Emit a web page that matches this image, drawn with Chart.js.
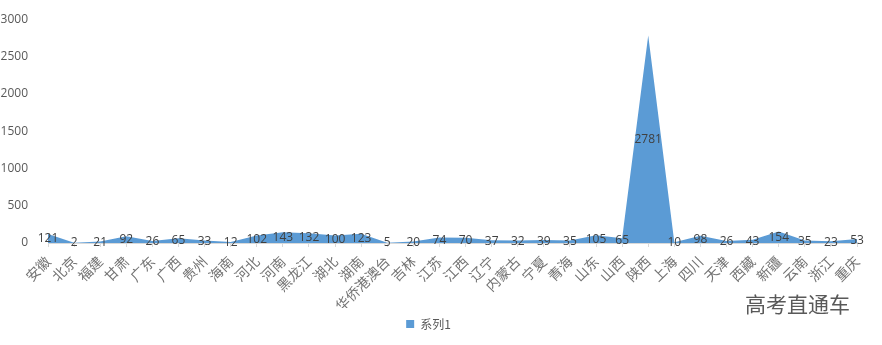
<!DOCTYPE html>
<html>
<head>
<meta charset="utf-8">
<script src="https://cdn.jsdelivr.net/npm/chart.js@4"></script>
<style>
  html, body { margin: 0; padding: 0; background: #fff; }
  #wrap { width: 882px; height: 345px; position: relative; }
</style>
</head>
<body>
<div id="wrap"><canvas id="areaChart" width="882" height="345"></canvas></div>
<script>
const provinces = ["安徽", "北京", "福建", "甘肃", "广东", "广西", "贵州", "海南", "河北", "河南", "黑龙江", "湖北", "湖南", "华侨港澳台", "吉林", "江苏", "江西", "辽宁", "内蒙古", "宁夏", "青海", "山东", "山西", "陕西", "上海", "四川", "天津", "西藏", "新疆", "云南", "浙江", "重庆"];
const series1 = [121, 2, 21, 92, 26, 65, 33, 12, 102, 143, 132, 100, 123, 5, 20, 74, 70, 37, 32, 39, 35, 105, 65, 2781, 10, 98, 26, 43, 154, 35, 23, 53];
const yTicks = [0, 500, 1000, 1500, 2000, 2500, 3000];

// 数据标签放在面积的垂直中点，和原图一致
const midLabels = {
  id: "midLabels",
  afterDatasetsDraw(chart) {
    const { ctx, scales } = chart;
    const y0 = scales.y.getPixelForValue(0);
    ctx.save();
    ctx.font = "12px 'Open Sans', sans-serif";
    ctx.fillStyle = "#404040";
    ctx.textAlign = "center";
    ctx.textBaseline = "middle";
    series1.forEach((v, i) => {
      const x = scales.x.getPixelForValue(i);
      const y = (y0 + scales.y.getPixelForValue(v)) / 2;
      ctx.fillText(String(v), x, y);
    });
    ctx.restore();
  }
};

const watermark = {
  id: "watermark",
  afterDraw(chart) {
    const { ctx } = chart;
    ctx.save();
    ctx.font = "21px 'Noto Sans CJK SC', sans-serif";
    ctx.fillStyle = "#595959";
    ctx.textAlign = "left";
    ctx.textBaseline = "middle";
    ctx.fillText("高考直通车", 745, 304);
    ctx.restore();
  }
};

new Chart(document.getElementById("areaChart"), {
  type: "line",
  data: {
    labels: provinces,
    datasets: [
      {
        label: "系列1",
        data: series1,
        fill: "origin",
        backgroundColor: "#5b9bd5",
        borderColor: "#5b9bd5",
        borderWidth: 0,
        pointRadius: 0,
        tension: 0
      }
    ]
  },
  options: {
    responsive: false,
    animation: false,
    layout: { padding: { top: 12, right: 25, bottom: 5, left: 0 } },
    plugins: {
      legend: {
        position: "bottom",
        labels: {
          boxWidth: 8,
          boxHeight: 8,
          padding: 10,
          color: "#595959",
          font: { size: 12, family: "'Noto Sans CJK SC', sans-serif" }
        }
      },
      tooltip: { enabled: false }
    },
    scales: {
      x: {
        offset: false,
        afterFit: (scale) => { scale.height = 65; },
        grid: { drawOnChartArea: false, color: "#d9d9d9", tickLength: 4 },
        border: { color: "#d9d9d9" },
        ticks: {
          autoSkip: false,
          minRotation: 45,
          maxRotation: 45,
          color: "#737373",
          padding: 6,
          font: { size: 14, family: "'Noto Sans CJK SC', serif" }
        }
      },
      y: {
        min: 0,
        max: 3000,
        afterFit: (scale) => { scale.width = 48; },
        afterBuildTicks: (scale) => { scale.ticks = yTicks.map((v) => ({ value: v })); },
        grid: { display: false },
        border: { display: false },
        ticks: {
          color: "#595959",
          padding: 12,
          callback: (v) => String(v),
          font: { size: 12, family: "'Open Sans', sans-serif" }
        }
      }
    }
  },
  plugins: [midLabels, watermark]
});
</script>
</body>
</html>
